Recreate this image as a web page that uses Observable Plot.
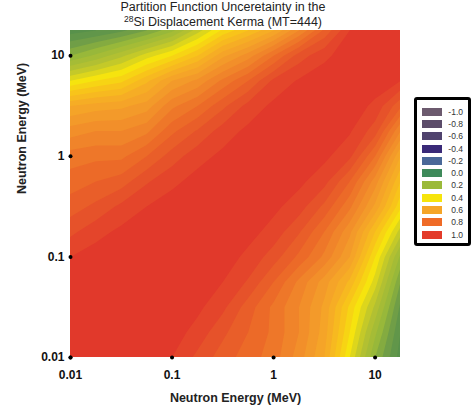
<!DOCTYPE html>
<html>
<head>
<meta charset="utf-8">
<script src="https://cdn.jsdelivr.net/npm/d3@7"></script>
<script src="https://cdn.jsdelivr.net/npm/@observablehq/plot@0.6"></script>
<style>
  body { margin: 0; background: #fff; font-family: "Liberation Sans", Arial, sans-serif; }
  #wrap { position: relative; width: 474px; height: 410px; overflow: hidden; }
  #chart { position: absolute; left: 0; top: 0; }
  #title { position: absolute; left: 0; top: 0; width: 446px; text-align: center; font-size: 12.5px; line-height: 14.5px; color: #222; }
  #title sup { font-size: 8.5px; vertical-align: 4px; line-height: 0; }
  #legend { position: absolute; left: 414px; top: 97px; width: 51px; height: 143px; border: 3.5px solid #000; border-radius: 3px; background: #fff; }
  .row { position: absolute; left: 5px; width: 41px; height: 8px; }
  .sw { position: absolute; left: 0; top: 0; width: 20px; height: 8px; }
  .lb { position: absolute; right: 0; top: 0; font-size: 8.5px; line-height: 8px; color: #333; }
</style>
</head>
<body>
<div id="wrap">
  <div id="chart"></div>
  <div id="title"></div>
  <div id="legend"></div>
</div>
<script>
// log10 of neutron energy (MeV) at the grid points
const logEnergy = [-2, -1.75, -1.5, -1.25, -1, -0.75, -0.5, -0.25, 0, 0.25, 0.5, 0.75, 1, 1.25];

// correlation values, rows from lowest y-energy (bottom) to highest (top), columns by x-energy
const corrRows = [
  [1.00, 1.00, 1.00, 0.99, 0.96, 0.91, 0.86, 0.82, 0.78, 0.70, 0.60, 0.40, 0.20, 0.06],
  [1.00, 1.00, 1.00, 1.00, 0.98, 0.945, 0.89, 0.84, 0.79, 0.72, 0.62, 0.44, 0.25, 0.08],
  [1.00, 1.00, 1.00, 1.00, 0.99, 0.97, 0.93, 0.86, 0.79, 0.72, 0.63, 0.47, 0.31, 0.11],
  [0.99, 1.00, 1.00, 1.00, 1.00, 0.99, 0.96, 0.915, 0.84, 0.75, 0.66, 0.55, 0.38, 0.16],
  [0.96, 0.98, 0.99, 1.00, 1.00, 0.99, 0.98, 0.95, 0.90, 0.83, 0.75, 0.64, 0.44, 0.23],
  [0.91, 0.945, 0.97, 0.99, 0.99, 1.00, 0.99, 0.975, 0.945, 0.885, 0.80, 0.69, 0.52, 0.34],
  [0.86, 0.89, 0.93, 0.96, 0.98, 0.99, 1.00, 0.99, 0.97, 0.94, 0.87, 0.77, 0.63, 0.45],
  [0.82, 0.84, 0.86, 0.915, 0.95, 0.975, 0.99, 1.00, 0.99, 0.97, 0.935, 0.84, 0.70, 0.52],
  [0.78, 0.79, 0.79, 0.84, 0.90, 0.945, 0.97, 0.99, 1.00, 0.99, 0.97, 0.93, 0.80, 0.60],
  [0.70, 0.72, 0.72, 0.75, 0.83, 0.885, 0.94, 0.97, 0.99, 1.00, 0.99, 0.965, 0.90, 0.72],
  [0.60, 0.62, 0.63, 0.66, 0.75, 0.80, 0.87, 0.935, 0.97, 0.99, 1.00, 0.985, 0.95, 0.85],
  [0.40, 0.44, 0.47, 0.55, 0.64, 0.69, 0.77, 0.84, 0.93, 0.965, 0.985, 1.00, 0.985, 0.96],
  [0.20, 0.25, 0.31, 0.38, 0.44, 0.52, 0.63, 0.70, 0.80, 0.90, 0.95, 0.985, 1.00, 0.99],
  [0.06, 0.08, 0.11, 0.16, 0.23, 0.34, 0.45, 0.52, 0.60, 0.72, 0.85, 0.96, 0.99, 1.00]
];

// axis ticks (log10 of energy) and their labels
const tickExp = [-2, -1, 0, 1];
const tickLabels = ["0.01", "0.1", "1", "10"];
const axisDomain = [-2, 1.25];

// legend
const legendValues = ["-1.0", "-0.8", "-0.6", "-0.4", "-0.2", "0.0", "0.2", "0.4", "0.6", "0.8", "1.0"];
const legendColors = ["#6c5a6e", "#5c4c6a", "#50436e", "#3a2a78", "#4a6898", "#3e8a5a", "#9bba3a", "#f6e40c", "#f5a528", "#ef6b27", "#e33b2a"];

// texts
const titleLine1 = "Partition Function Unceretainty in the";
const titleIso = "28";
const titleLine2 = "Si Displacement Kerma (MT=444)";
const xLabel = "Neutron Energy (MeV)";
const yLabel = "Neutron Energy (MeV)";

// colour ramp for the contour bands
const colorStops = [0, 0.1, 0.2, 0.3, 0.4, 0.48, 0.56, 0.64, 0.72, 0.8, 0.88, 0.96];
const colorRamp = ["#4e8c4c", "#66984a", "#98b83a", "#b8c230", "#f6e40e", "#f8c41a", "#f6ad25", "#f39a2a", "#f0842a", "#ec6a28", "#e6522a", "#e1392b"];

const n = logEnergy.length;
const step = logEnergy[1] - logEnergy[0];
const values = corrRows.flat();

const chart = Plot.plot({
  width: 474,
  height: 410,
  marginLeft: 70,
  marginRight: 74,
  marginTop: 30,
  marginBottom: 53,
  x: { type: "linear", domain: axisDomain },
  y: { type: "linear", domain: axisDomain },
  color: { type: "linear", domain: colorStops, range: colorRamp, clamp: true },
  style: { fontFamily: "Liberation Sans, Arial, sans-serif", background: "transparent", color: "#111" },
  marks: [
    Plot.contour(values, {
      width: n, height: n,
      x1: logEnergy[0] - step / 2, x2: logEnergy[n - 1] + step / 2,
      y1: logEnergy[0] - step / 2, y2: logEnergy[n - 1] + step / 2,
      fill: Plot.identity,
      stroke: "none",
      thresholds: d3.range(0, 1, 0.04),
      smooth: true,
      clip: true
    }),
    Plot.axisX({ ticks: tickExp, tickFormat: d => tickLabels[tickExp.indexOf(d)], tickSize: 0, tickPadding: 13, fontSize: 12, fontWeight: "bold", label: null }),
    Plot.axisY({ ticks: tickExp, tickFormat: d => tickLabels[tickExp.indexOf(d)], tickSize: 0, tickPadding: 6, fontSize: 12, fontWeight: "bold", label: null }),
    Plot.dot(tickExp, { x: d => d, y: axisDomain[0], r: 2, fill: "#000", stroke: "none" }),
    Plot.dot(tickExp, { x: axisDomain[0], y: d => d, r: 2, fill: "#000", stroke: "none" }),
    Plot.text([xLabel], { frameAnchor: "bottom", dy: 40, text: d => d, fontSize: 12.5, fontWeight: "bold", lineAnchor: "middle", fill: "#222" }),
    Plot.text([yLabel], { frameAnchor: "left", dx: -49, rotate: -90, text: d => d, fontSize: 12.5, fontWeight: "bold", lineAnchor: "middle", fill: "#222" })
  ]
});
document.getElementById("chart").appendChild(chart);

const title = document.getElementById("title");
const l1 = document.createElement("div");
l1.textContent = titleLine1;
const l2 = document.createElement("div");
const sup = document.createElement("sup");
sup.textContent = titleIso;
l2.appendChild(sup);
l2.appendChild(document.createTextNode(titleLine2));
title.appendChild(l1);
title.appendChild(l2);

const legend = document.getElementById("legend");
legendValues.forEach((v, i) => {
  const row = document.createElement("div");
  row.className = "row";
  row.style.top = (7.8 + i * 12.27) + "px";
  const sw = document.createElement("div");
  sw.className = "sw";
  sw.style.background = legendColors[i];
  const lb = document.createElement("div");
  lb.className = "lb";
  lb.textContent = v;
  row.appendChild(sw);
  row.appendChild(lb);
  legend.appendChild(row);
});
</script>
</body>
</html>
